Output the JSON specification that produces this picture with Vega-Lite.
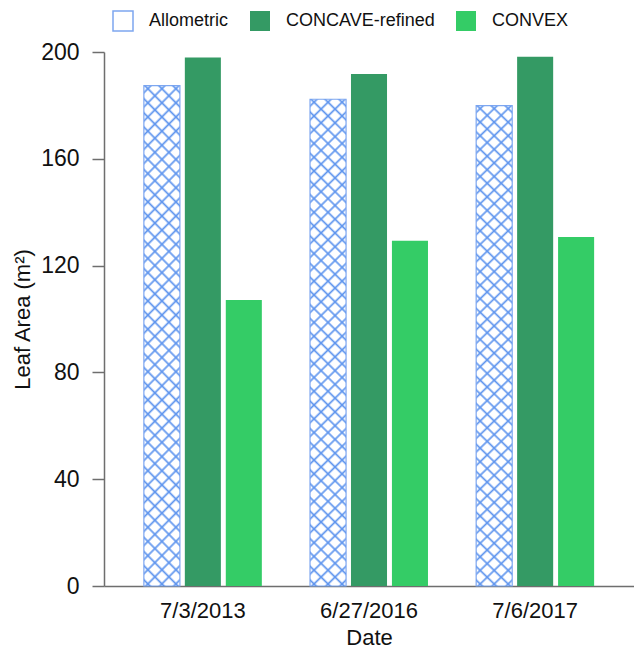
{
  "$schema": "https://vega.github.io/schema/vega-lite/v6.json",
  "autosize": "none",
  "width": 530,
  "height": 534,
  "padding": {"left": 104, "top": 52, "right": 0, "bottom": 68},
  "background": "white",
  "config": {
    "font": "Liberation Sans",
    "view": {"stroke": null},
    "axis": {"grid": false}
  },
  "data": {
    "values": [
      {"date": "7/3/2013", "method": "Allometric", "area": 187.4},
      {"date": "7/3/2013", "method": "CONCAVE-refined", "area": 197.9},
      {"date": "7/3/2013", "method": "CONVEX", "area": 107.1},
      {"date": "6/27/2016", "method": "Allometric", "area": 182.3},
      {"date": "6/27/2016", "method": "CONCAVE-refined", "area": 191.8},
      {"date": "6/27/2016", "method": "CONVEX", "area": 129.3},
      {"date": "7/6/2017", "method": "Allometric", "area": 179.9},
      {"date": "7/6/2017", "method": "CONCAVE-refined", "area": 198.2},
      {"date": "7/6/2017", "method": "CONVEX", "area": 130.7}
    ]
  },
  "encoding": {
    "x": {
      "field": "date",
      "type": "nominal",
      "sort": ["7/3/2013", "6/27/2016", "7/6/2017"],
      "scale": {"paddingInner": 0.29, "paddingOuter": 0.24},
      "axis": {
        "title": "Date",
        "labelAngle": 0,
        "ticks": false,
        "domainColor": "#6e6e6e",
        "domainWidth": 1.5,
        "labelFontSize": 22,
        "labelColor": "#111111",
        "labelPadding": 14,
        "titleFontSize": 22,
        "titleFontWeight": "normal",
        "titleColor": "#111111",
        "titlePadding": 6
      }
    },
    "xOffset": {
      "field": "method",
      "type": "nominal",
      "sort": ["Allometric", "CONCAVE-refined", "CONVEX"],
      "scale": {"paddingInner": 0.12, "paddingOuter": 0}
    },
    "y": {
      "field": "area",
      "type": "quantitative",
      "scale": {"domain": [0, 200], "nice": false},
      "axis": {
        "title": "Leaf Area (m²)",
        "values": [0, 40, 80, 120, 160, 200],
        "domainColor": "#6e6e6e",
        "domainWidth": 1.5,
        "tickColor": "#6e6e6e",
        "tickWidth": 1.5,
        "tickSize": 12,
        "labelFontSize": 23,
        "labelColor": "#111111",
        "labelPadding": 13,
        "titleFontSize": 22,
        "titleFontWeight": "normal",
        "titleColor": "#111111",
        "titlePadding": 6
      }
    }
  },
  "layer": [
    {
      "mark": {"type": "bar"},
      "encoding": {
        "color": {
          "field": "method",
          "type": "nominal",
          "scale": {
            "domain": ["Allometric", "CONCAVE-refined", "CONVEX"],
            "range": ["#ffffff", "#349a64", "#34cc66"]
          },
          "legend": {
            "title": null,
            "orient": "none",
            "legendX": 8,
            "legendY": -42,
            "direction": "horizontal",
            "symbolType": "square",
            "symbolSize": 400,
            "labelFontSize": 18,
            "labelColor": "#111111",
            "labelOffset": 15,
            "columnPadding": 18,
            "padding": 0,
            "encode": {
              "symbols": {
                "update": {
                  "fill": [
                    {"test": "datum.value === 'Allometric'", "value": "#e4edfc"},
                    {"scale": "color", "field": "value"}
                  ],
                  "stroke": [
                    {"test": "datum.value === 'Allometric'", "value": "#7ea7f0"},
                    {"value": "transparent"}
                  ],
                  "strokeWidth": {"value": 1.5}
                }
              }
            }
          }
        }
      }
    },
    {
      "transform": [{"filter": "datum.method === 'Allometric'"}],
      "mark": {
        "type": "bar",
        "stroke": "#7ea7f0",
        "strokeWidth": 1.2,
        "fill": {
          "gradient": "linear",
          "x1": 0, "y1": 0, "x2": 0.0789, "y2": 1.085,
          "stops": [
            {"offset": 0.0085, "color": "rgba(95,149,238,0)"}, {"offset": 0.0130, "color": "#5f95ee"}, {"offset": 0.0175, "color": "rgba(95,149,238,0)"},
            {"offset": 0.0344, "color": "rgba(95,149,238,0)"}, {"offset": 0.0389, "color": "#5f95ee"}, {"offset": 0.0434, "color": "rgba(95,149,238,0)"},
            {"offset": 0.0603, "color": "rgba(95,149,238,0)"}, {"offset": 0.0648, "color": "#5f95ee"}, {"offset": 0.0693, "color": "rgba(95,149,238,0)"},
            {"offset": 0.0862, "color": "rgba(95,149,238,0)"}, {"offset": 0.0907, "color": "#5f95ee"}, {"offset": 0.0952, "color": "rgba(95,149,238,0)"},
            {"offset": 0.1122, "color": "rgba(95,149,238,0)"}, {"offset": 0.1167, "color": "#5f95ee"}, {"offset": 0.1212, "color": "rgba(95,149,238,0)"},
            {"offset": 0.1381, "color": "rgba(95,149,238,0)"}, {"offset": 0.1426, "color": "#5f95ee"}, {"offset": 0.1471, "color": "rgba(95,149,238,0)"},
            {"offset": 0.1640, "color": "rgba(95,149,238,0)"}, {"offset": 0.1685, "color": "#5f95ee"}, {"offset": 0.1730, "color": "rgba(95,149,238,0)"},
            {"offset": 0.1899, "color": "rgba(95,149,238,0)"}, {"offset": 0.1944, "color": "#5f95ee"}, {"offset": 0.1989, "color": "rgba(95,149,238,0)"},
            {"offset": 0.2159, "color": "rgba(95,149,238,0)"}, {"offset": 0.2204, "color": "#5f95ee"}, {"offset": 0.2249, "color": "rgba(95,149,238,0)"},
            {"offset": 0.2418, "color": "rgba(95,149,238,0)"}, {"offset": 0.2463, "color": "#5f95ee"}, {"offset": 0.2508, "color": "rgba(95,149,238,0)"},
            {"offset": 0.2677, "color": "rgba(95,149,238,0)"}, {"offset": 0.2722, "color": "#5f95ee"}, {"offset": 0.2767, "color": "rgba(95,149,238,0)"},
            {"offset": 0.2936, "color": "rgba(95,149,238,0)"}, {"offset": 0.2981, "color": "#5f95ee"}, {"offset": 0.3026, "color": "rgba(95,149,238,0)"},
            {"offset": 0.3196, "color": "rgba(95,149,238,0)"}, {"offset": 0.3241, "color": "#5f95ee"}, {"offset": 0.3286, "color": "rgba(95,149,238,0)"},
            {"offset": 0.3455, "color": "rgba(95,149,238,0)"}, {"offset": 0.3500, "color": "#5f95ee"}, {"offset": 0.3545, "color": "rgba(95,149,238,0)"},
            {"offset": 0.3714, "color": "rgba(95,149,238,0)"}, {"offset": 0.3759, "color": "#5f95ee"}, {"offset": 0.3804, "color": "rgba(95,149,238,0)"},
            {"offset": 0.3974, "color": "rgba(95,149,238,0)"}, {"offset": 0.4019, "color": "#5f95ee"}, {"offset": 0.4064, "color": "rgba(95,149,238,0)"},
            {"offset": 0.4233, "color": "rgba(95,149,238,0)"}, {"offset": 0.4278, "color": "#5f95ee"}, {"offset": 0.4323, "color": "rgba(95,149,238,0)"},
            {"offset": 0.4492, "color": "rgba(95,149,238,0)"}, {"offset": 0.4537, "color": "#5f95ee"}, {"offset": 0.4582, "color": "rgba(95,149,238,0)"},
            {"offset": 0.4751, "color": "rgba(95,149,238,0)"}, {"offset": 0.4796, "color": "#5f95ee"}, {"offset": 0.4841, "color": "rgba(95,149,238,0)"},
            {"offset": 0.5011, "color": "rgba(95,149,238,0)"}, {"offset": 0.5056, "color": "#5f95ee"}, {"offset": 0.5101, "color": "rgba(95,149,238,0)"},
            {"offset": 0.5270, "color": "rgba(95,149,238,0)"}, {"offset": 0.5315, "color": "#5f95ee"}, {"offset": 0.5360, "color": "rgba(95,149,238,0)"},
            {"offset": 0.5529, "color": "rgba(95,149,238,0)"}, {"offset": 0.5574, "color": "#5f95ee"}, {"offset": 0.5619, "color": "rgba(95,149,238,0)"},
            {"offset": 0.5788, "color": "rgba(95,149,238,0)"}, {"offset": 0.5833, "color": "#5f95ee"}, {"offset": 0.5878, "color": "rgba(95,149,238,0)"},
            {"offset": 0.6048, "color": "rgba(95,149,238,0)"}, {"offset": 0.6093, "color": "#5f95ee"}, {"offset": 0.6138, "color": "rgba(95,149,238,0)"},
            {"offset": 0.6307, "color": "rgba(95,149,238,0)"}, {"offset": 0.6352, "color": "#5f95ee"}, {"offset": 0.6397, "color": "rgba(95,149,238,0)"},
            {"offset": 0.6566, "color": "rgba(95,149,238,0)"}, {"offset": 0.6611, "color": "#5f95ee"}, {"offset": 0.6656, "color": "rgba(95,149,238,0)"},
            {"offset": 0.6825, "color": "rgba(95,149,238,0)"}, {"offset": 0.6870, "color": "#5f95ee"}, {"offset": 0.6915, "color": "rgba(95,149,238,0)"},
            {"offset": 0.7085, "color": "rgba(95,149,238,0)"}, {"offset": 0.7130, "color": "#5f95ee"}, {"offset": 0.7175, "color": "rgba(95,149,238,0)"},
            {"offset": 0.7344, "color": "rgba(95,149,238,0)"}, {"offset": 0.7389, "color": "#5f95ee"}, {"offset": 0.7434, "color": "rgba(95,149,238,0)"},
            {"offset": 0.7603, "color": "rgba(95,149,238,0)"}, {"offset": 0.7648, "color": "#5f95ee"}, {"offset": 0.7693, "color": "rgba(95,149,238,0)"},
            {"offset": 0.7862, "color": "rgba(95,149,238,0)"}, {"offset": 0.7907, "color": "#5f95ee"}, {"offset": 0.7952, "color": "rgba(95,149,238,0)"},
            {"offset": 0.8122, "color": "rgba(95,149,238,0)"}, {"offset": 0.8167, "color": "#5f95ee"}, {"offset": 0.8212, "color": "rgba(95,149,238,0)"},
            {"offset": 0.8381, "color": "rgba(95,149,238,0)"}, {"offset": 0.8426, "color": "#5f95ee"}, {"offset": 0.8471, "color": "rgba(95,149,238,0)"},
            {"offset": 0.8640, "color": "rgba(95,149,238,0)"}, {"offset": 0.8685, "color": "#5f95ee"}, {"offset": 0.8730, "color": "rgba(95,149,238,0)"},
            {"offset": 0.8899, "color": "rgba(95,149,238,0)"}, {"offset": 0.8944, "color": "#5f95ee"}, {"offset": 0.8989, "color": "rgba(95,149,238,0)"},
            {"offset": 0.9159, "color": "rgba(95,149,238,0)"}, {"offset": 0.9204, "color": "#5f95ee"}, {"offset": 0.9249, "color": "rgba(95,149,238,0)"},
            {"offset": 0.9418, "color": "rgba(95,149,238,0)"}, {"offset": 0.9463, "color": "#5f95ee"}, {"offset": 0.9508, "color": "rgba(95,149,238,0)"},
            {"offset": 0.9677, "color": "rgba(95,149,238,0)"}, {"offset": 0.9722, "color": "#5f95ee"}, {"offset": 0.9767, "color": "rgba(95,149,238,0)"},
            {"offset": 0.9936, "color": "rgba(95,149,238,0)"}, {"offset": 0.9981, "color": "#5f95ee"}, {"offset": 1.0, "color": "rgba(95,149,238,0)"}
          ]
        }
      }
    },
    {
      "transform": [{"filter": "datum.method === 'Allometric'"}],
      "mark": {
        "type": "bar",
        "fill": {
          "gradient": "linear",
          "x1": 1, "y1": 0, "x2": 0.9211, "y2": 1.085,
          "stops": [
            {"offset": 0.0085, "color": "rgba(95,149,238,0)"}, {"offset": 0.0130, "color": "#5f95ee"}, {"offset": 0.0175, "color": "rgba(95,149,238,0)"},
            {"offset": 0.0344, "color": "rgba(95,149,238,0)"}, {"offset": 0.0389, "color": "#5f95ee"}, {"offset": 0.0434, "color": "rgba(95,149,238,0)"},
            {"offset": 0.0603, "color": "rgba(95,149,238,0)"}, {"offset": 0.0648, "color": "#5f95ee"}, {"offset": 0.0693, "color": "rgba(95,149,238,0)"},
            {"offset": 0.0862, "color": "rgba(95,149,238,0)"}, {"offset": 0.0907, "color": "#5f95ee"}, {"offset": 0.0952, "color": "rgba(95,149,238,0)"},
            {"offset": 0.1122, "color": "rgba(95,149,238,0)"}, {"offset": 0.1167, "color": "#5f95ee"}, {"offset": 0.1212, "color": "rgba(95,149,238,0)"},
            {"offset": 0.1381, "color": "rgba(95,149,238,0)"}, {"offset": 0.1426, "color": "#5f95ee"}, {"offset": 0.1471, "color": "rgba(95,149,238,0)"},
            {"offset": 0.1640, "color": "rgba(95,149,238,0)"}, {"offset": 0.1685, "color": "#5f95ee"}, {"offset": 0.1730, "color": "rgba(95,149,238,0)"},
            {"offset": 0.1899, "color": "rgba(95,149,238,0)"}, {"offset": 0.1944, "color": "#5f95ee"}, {"offset": 0.1989, "color": "rgba(95,149,238,0)"},
            {"offset": 0.2159, "color": "rgba(95,149,238,0)"}, {"offset": 0.2204, "color": "#5f95ee"}, {"offset": 0.2249, "color": "rgba(95,149,238,0)"},
            {"offset": 0.2418, "color": "rgba(95,149,238,0)"}, {"offset": 0.2463, "color": "#5f95ee"}, {"offset": 0.2508, "color": "rgba(95,149,238,0)"},
            {"offset": 0.2677, "color": "rgba(95,149,238,0)"}, {"offset": 0.2722, "color": "#5f95ee"}, {"offset": 0.2767, "color": "rgba(95,149,238,0)"},
            {"offset": 0.2936, "color": "rgba(95,149,238,0)"}, {"offset": 0.2981, "color": "#5f95ee"}, {"offset": 0.3026, "color": "rgba(95,149,238,0)"},
            {"offset": 0.3196, "color": "rgba(95,149,238,0)"}, {"offset": 0.3241, "color": "#5f95ee"}, {"offset": 0.3286, "color": "rgba(95,149,238,0)"},
            {"offset": 0.3455, "color": "rgba(95,149,238,0)"}, {"offset": 0.3500, "color": "#5f95ee"}, {"offset": 0.3545, "color": "rgba(95,149,238,0)"},
            {"offset": 0.3714, "color": "rgba(95,149,238,0)"}, {"offset": 0.3759, "color": "#5f95ee"}, {"offset": 0.3804, "color": "rgba(95,149,238,0)"},
            {"offset": 0.3974, "color": "rgba(95,149,238,0)"}, {"offset": 0.4019, "color": "#5f95ee"}, {"offset": 0.4064, "color": "rgba(95,149,238,0)"},
            {"offset": 0.4233, "color": "rgba(95,149,238,0)"}, {"offset": 0.4278, "color": "#5f95ee"}, {"offset": 0.4323, "color": "rgba(95,149,238,0)"},
            {"offset": 0.4492, "color": "rgba(95,149,238,0)"}, {"offset": 0.4537, "color": "#5f95ee"}, {"offset": 0.4582, "color": "rgba(95,149,238,0)"},
            {"offset": 0.4751, "color": "rgba(95,149,238,0)"}, {"offset": 0.4796, "color": "#5f95ee"}, {"offset": 0.4841, "color": "rgba(95,149,238,0)"},
            {"offset": 0.5011, "color": "rgba(95,149,238,0)"}, {"offset": 0.5056, "color": "#5f95ee"}, {"offset": 0.5101, "color": "rgba(95,149,238,0)"},
            {"offset": 0.5270, "color": "rgba(95,149,238,0)"}, {"offset": 0.5315, "color": "#5f95ee"}, {"offset": 0.5360, "color": "rgba(95,149,238,0)"},
            {"offset": 0.5529, "color": "rgba(95,149,238,0)"}, {"offset": 0.5574, "color": "#5f95ee"}, {"offset": 0.5619, "color": "rgba(95,149,238,0)"},
            {"offset": 0.5788, "color": "rgba(95,149,238,0)"}, {"offset": 0.5833, "color": "#5f95ee"}, {"offset": 0.5878, "color": "rgba(95,149,238,0)"},
            {"offset": 0.6048, "color": "rgba(95,149,238,0)"}, {"offset": 0.6093, "color": "#5f95ee"}, {"offset": 0.6138, "color": "rgba(95,149,238,0)"},
            {"offset": 0.6307, "color": "rgba(95,149,238,0)"}, {"offset": 0.6352, "color": "#5f95ee"}, {"offset": 0.6397, "color": "rgba(95,149,238,0)"},
            {"offset": 0.6566, "color": "rgba(95,149,238,0)"}, {"offset": 0.6611, "color": "#5f95ee"}, {"offset": 0.6656, "color": "rgba(95,149,238,0)"},
            {"offset": 0.6825, "color": "rgba(95,149,238,0)"}, {"offset": 0.6870, "color": "#5f95ee"}, {"offset": 0.6915, "color": "rgba(95,149,238,0)"},
            {"offset": 0.7085, "color": "rgba(95,149,238,0)"}, {"offset": 0.7130, "color": "#5f95ee"}, {"offset": 0.7175, "color": "rgba(95,149,238,0)"},
            {"offset": 0.7344, "color": "rgba(95,149,238,0)"}, {"offset": 0.7389, "color": "#5f95ee"}, {"offset": 0.7434, "color": "rgba(95,149,238,0)"},
            {"offset": 0.7603, "color": "rgba(95,149,238,0)"}, {"offset": 0.7648, "color": "#5f95ee"}, {"offset": 0.7693, "color": "rgba(95,149,238,0)"},
            {"offset": 0.7862, "color": "rgba(95,149,238,0)"}, {"offset": 0.7907, "color": "#5f95ee"}, {"offset": 0.7952, "color": "rgba(95,149,238,0)"},
            {"offset": 0.8122, "color": "rgba(95,149,238,0)"}, {"offset": 0.8167, "color": "#5f95ee"}, {"offset": 0.8212, "color": "rgba(95,149,238,0)"},
            {"offset": 0.8381, "color": "rgba(95,149,238,0)"}, {"offset": 0.8426, "color": "#5f95ee"}, {"offset": 0.8471, "color": "rgba(95,149,238,0)"},
            {"offset": 0.8640, "color": "rgba(95,149,238,0)"}, {"offset": 0.8685, "color": "#5f95ee"}, {"offset": 0.8730, "color": "rgba(95,149,238,0)"},
            {"offset": 0.8899, "color": "rgba(95,149,238,0)"}, {"offset": 0.8944, "color": "#5f95ee"}, {"offset": 0.8989, "color": "rgba(95,149,238,0)"},
            {"offset": 0.9159, "color": "rgba(95,149,238,0)"}, {"offset": 0.9204, "color": "#5f95ee"}, {"offset": 0.9249, "color": "rgba(95,149,238,0)"},
            {"offset": 0.9418, "color": "rgba(95,149,238,0)"}, {"offset": 0.9463, "color": "#5f95ee"}, {"offset": 0.9508, "color": "rgba(95,149,238,0)"},
            {"offset": 0.9677, "color": "rgba(95,149,238,0)"}, {"offset": 0.9722, "color": "#5f95ee"}, {"offset": 0.9767, "color": "rgba(95,149,238,0)"},
            {"offset": 0.9936, "color": "rgba(95,149,238,0)"}, {"offset": 0.9981, "color": "#5f95ee"}, {"offset": 1.0, "color": "rgba(95,149,238,0)"}
          ]
        }
      }
    }
  ]
}
